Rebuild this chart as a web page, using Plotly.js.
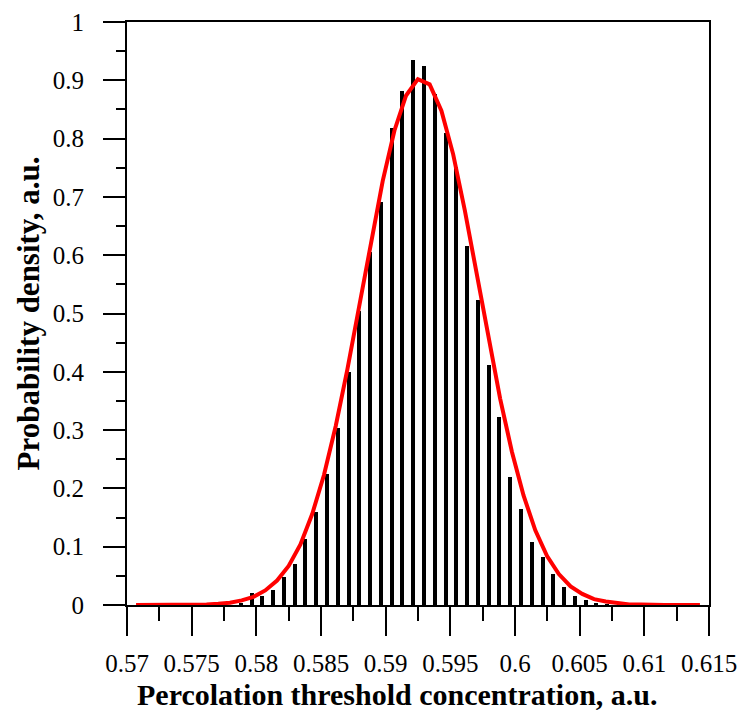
<!DOCTYPE html>
<html>
<head>
<meta charset="utf-8">
<script src="https://cdn.plot.ly/plotly-3.0.1.min.js"></script>
<style>html,body{margin:0;padding:0;background:#fff;}#chart{width:740px;height:713px;}</style>
</head>
<body>
<div id="chart"></div>
<script>
// Histogram bars (bin centres, heights)
const barX = [0.57880,0.57963,0.58046,0.58130,0.58213,0.58296,0.58380,0.58463,0.58546,0.58630,
  0.58713,0.58796,0.58880,0.58963,0.59046,0.59130,0.59213,0.59296,0.59380,0.59463,
  0.59546,0.59630,0.59713,0.59796,0.59880,0.59963,0.60046,0.60130,0.60213,0.60296,
  0.60380,0.60463,0.60546,0.60630,0.60713];
const barY = [0.003,0.020,0.015,0.026,0.048,0.070,0.114,0.159,0.224,0.304,
  0.399,0.505,0.605,0.691,0.818,0.881,0.935,0.924,0.877,0.810,
  0.752,0.615,0.524,0.412,0.322,0.220,0.165,0.108,0.082,0.054,
  0.031,0.016,0.008,0.004,0.002];

// Fitted red curve
const fitX = [0.57070,0.57161,0.57252,0.57342,0.57433,0.57524,0.57615,0.57706,0.57796,0.57887,
  0.57978,0.58069,0.58160,0.58250,0.58341,0.58432,0.58523,0.58614,0.58704,0.58795,
  0.58886,0.58977,0.59068,0.59158,0.59249,0.59340,0.59431,0.59522,0.59612,0.59703,
  0.59794,0.59885,0.59976,0.60066,0.60157,0.60248,0.60339,0.60430,0.60520,0.60611,
  0.60702,0.60793,0.60884,0.60974,0.61065,0.61156,0.61247,0.61338,0.61430];
const fitY = [0.000,0.000,0.000,0.000,0.000,0.000,0.001,0.002,0.004,0.008,
  0.014,0.025,0.042,0.067,0.104,0.156,0.223,0.307,0.404,0.512,
  0.623,0.727,0.814,0.874,0.902,0.893,0.848,0.773,0.677,0.569,
  0.458,0.354,0.263,0.188,0.128,0.084,0.053,0.032,0.019,0.010,
  0.006,0.003,0.001,0.001,0.000,0.000,0.000,0.000,0.000];

// Tick labels
const xTickVals = [0.57,0.575,0.58,0.585,0.59,0.595,0.6,0.605,0.61,0.615];
const xTickText = ['0.57','0.575','0.58','0.585','0.59','0.595','0.6','0.605','0.61','0.615'];
const xMinorVals = [0.5725,0.5775,0.5825,0.5875,0.5925,0.5975,0.6025,0.6075,0.6125];
const yTickVals = [0,0.1,0.2,0.3,0.4,0.5,0.6,0.7,0.8,0.9,1];
const yTickText = ['0','0.1','0.2','0.3','0.4','0.5','0.6','0.7','0.8','0.9','1'];
const yMinorVals = [0.05,0.15,0.25,0.35,0.45,0.55,0.65,0.75,0.85,0.95];
const xTitle = 'Percolation threshold concentration, a.u.';
const yTitle = 'Probability density, a.u.';

const font = 'Liberation Serif, Times New Roman, serif';

const traces = [
  {type:'bar', x:barX, y:barY, width:0.00031, marker:{color:'#000', line:{width:0}}, hoverinfo:'x+y', showlegend:false},
  {type:'scatter', mode:'lines', x:fitX, y:fitY, line:{color:'#ff0000', width:4}, showlegend:false}
];

const layout = {
  width:740, height:713,
  margin:{l:127, r:31, t:22, b:108},
  paper_bgcolor:'#fff', plot_bgcolor:'#fff',
  font:{family:font, color:'#000', size:25},
  bargap:0,
  xaxis:{
    range:[0.57,0.615], showgrid:false, zeroline:false,
    showline:true, linecolor:'#000', linewidth:2, mirror:true,
    ticks:'outside', ticklen:29, tickwidth:2, tickcolor:'#000',
    tickmode:'array', tickvals:xTickVals, ticktext:xTickText,
    ticklabelstandoff:6,
    minor:{tickmode:'array', tickvals:xMinorVals, ticks:'outside', ticklen:14, tickwidth:2, tickcolor:'#000'},
    tickfont:{family:font, size:25, color:'#000'}
  },
  yaxis:{
    range:[0,1], showgrid:false, zeroline:false,
    showline:true, linecolor:'#000', linewidth:2, mirror:true,
    ticks:'outside', ticklen:22, tickwidth:2, tickcolor:'#000',
    tickmode:'array', tickvals:yTickVals, ticktext:yTickText,
    ticklabelstandoff:14,
    minor:{tickmode:'array', tickvals:yMinorVals, ticks:'outside', ticklen:9, tickwidth:2, tickcolor:'#000'},
    tickfont:{family:font, size:25, color:'#000'},
    title:{text:'<b>' + yTitle + '</b>', font:{family:font, size:31, color:'#000'}, standoff:4}
  },
  annotations:[
    {text:'<b>' + xTitle + '</b>', xref:'paper', yref:'paper', x:0.4656, y:-0.1535,
     xanchor:'center', yanchor:'middle', showarrow:false,
     font:{family:font, size:30, color:'#000'}}
  ]
};

Plotly.newPlot('chart', traces, layout, {displayModeBar:false, staticPlot:true});
</script>
</body>
</html>
